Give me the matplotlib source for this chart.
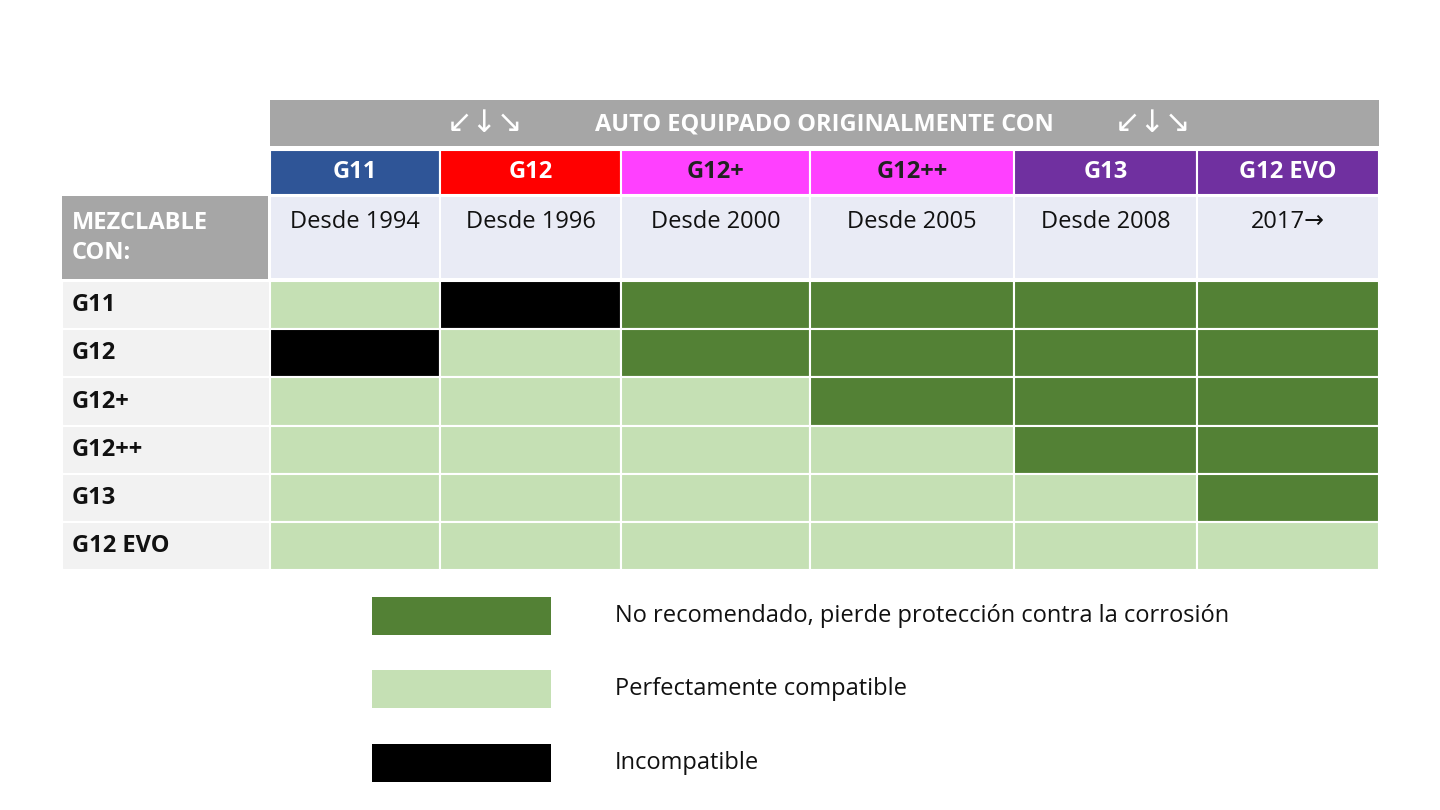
import matplotlib
matplotlib.use("Agg")
import matplotlib.pyplot as plt
from matplotlib.patches import Rectangle

columns = ["G11", "G12", "G12+", "G12++", "G13", "G12 EVO"]
years = ["Desde 1994", "Desde 1996", "Desde 2000", "Desde 2005", "Desde 2008", "2017→"]
rows = ["G11", "G12", "G12+", "G12++", "G13", "G12 EVO"]
# 0 = compatible, 1 = no recomendado, 2 = incompatible
status = [
    [0, 2, 1, 1, 1, 1],
    [2, 0, 1, 1, 1, 1],
    [0, 0, 0, 1, 1, 1],
    [0, 0, 0, 0, 1, 1],
    [0, 0, 0, 0, 0, 1],
    [0, 0, 0, 0, 0, 0],
]
legend_labels = ["No recomendado, pierde protección contra la corrosión",
                 "Perfectamente compatible", "Incompatible"]
legend_codes = [1, 0, 2]

header_colors = ["#2f5597", "#ff0000", "#ff40ff", "#ff40ff", "#7030a0", "#7030a0"]
header_text = ["white", "white", "#222222", "#222222", "white", "white"]
cell_colors = {0: "#c5e0b4", 1: "#538135", 2: "#000000"}

plt.rcParams['font.family'] = ['Open Sans', 'DejaVu Sans']
fig = plt.figure(figsize=(14.4, 8.1), dpi=100)
ax = fig.add_axes([0, 0, 1, 1])
ax.set_xlim(0, 1440); ax.set_ylim(810, 0); ax.axis("off")

col_edges = [270, 440, 621, 810, 1014, 1197, 1379]
row_edges = [281, 329, 377, 426, 474, 522, 570]

def rect(x0, y0, x1, y1, c, ec="white", lw=1.5):
    ax.add_patch(Rectangle((x0, y0), x1 - x0, y1 - y0, fc=c, ec=ec, lw=lw))

# top gray bar
rect(270, 100, 1379, 146, "#a6a6a6", ec="none")
ax.text(824, 124, "AUTO EQUIPADO ORIGINALMENTE CON", color="white", fontsize=17,
        fontweight="bold", ha="center", va="center")
for x in (485, 1153):
    ax.text(x, 124, "↙↓↘", color="white", fontsize=22, ha="center", va="center",
            family="DejaVu Sans")

# column headers
for j, name in enumerate(columns):
    x0, x1 = col_edges[j], col_edges[j + 1]
    rect(x0, 150, x1, 195, header_colors[j])
    ax.text((x0 + x1) / 2, 172, name, color=header_text[j], fontsize=17,
            fontweight="bold", ha="center", va="center")
    rect(x0, 196, x1, 279, "#e9ebf5")
    ax.text((x0 + x1) / 2, 222, years[j], color="#111111", fontsize=17,
            ha="center", va="center")

rect(62, 196, 268, 279, "#a6a6a6", ec="none")
ax.text(72, 238, "MEZCLABLE\nCON:", color="white", fontsize=17, fontweight="bold",
        ha="left", va="center", linespacing=1.3)

# rows
for i, r in enumerate(rows):
    y0, y1 = row_edges[i], row_edges[i + 1]
    rect(62, y0, 270, y1, "#f2f2f2")
    ax.text(72, (y0 + y1) / 2, r, fontsize=17, fontweight="bold", color="#111111",
            ha="left", va="center")
    for j in range(len(columns)):
        rect(col_edges[j], y0, col_edges[j + 1], y1, cell_colors[status[i][j]])

# legend
ly = [616, 689, 763]
for y, lab, code in zip(ly, legend_labels, legend_codes):
    rect(372, y - 19, 551, y + 19, cell_colors[code], ec="none")
    ax.text(615, y, lab, fontsize=17, color="#111111", ha="left", va="center")

fig.savefig("out.png", dpi=100, facecolor="white")
